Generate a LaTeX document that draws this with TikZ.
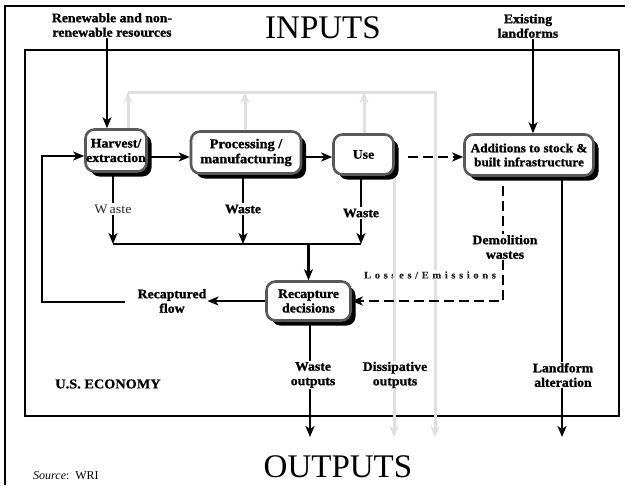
\documentclass[tikz,border=0pt]{standalone}
\usepackage{fontspec}
\setmainfont{Liberation Serif}
\newfontfamily\wide[FakeStretch=1.08]{Liberation Serif}
\newfontfamily\heavy[FakeStretch=1.06,FakeBold=1.2]{Liberation Serif Bold}
\newfontfamily\semi[FakeStretch=1.06,FakeBold=0.6]{Liberation Serif Bold}
\newcommand\lsp[1]{#1\hspace{3.6pt}}
\usetikzlibrary{arrows.meta,shadows,calc}
\begin{document}
\begin{tikzpicture}[x=1pt,y=-1pt,
  box/.style={draw=black!65, line width=2.6pt, rounded corners=9pt, fill=white,
    drop shadow={shadow xshift=5pt, shadow yshift=-5pt, opacity=1, fill=black},
    align=center, inner sep=0pt, font=\heavy\fontsize{13}{14.5}\selectfont},
  lab/.style={align=center, inner sep=1pt, font=\heavy\fontsize{13}{14.5}\selectfont},
  arr/.style={line width=2.6pt, -{Stealth[length=11pt,width=9pt,inset=3pt]}},
  ln/.style={line width=2.6pt},
  dsh/.style={dash pattern=on 10pt off 5pt},
  gln/.style={line width=3pt, draw=black!12},
  garr/.style={gln, -{Stealth[length=11pt,width=9pt,inset=3pt]}},
]
\useasboundingbox (0,0) rectangle (631,485);
% frames
\draw[line width=1.2pt] (625,6) -- (5,6) -- (5,485);
\draw[line width=2pt] (25,50) rectangle (619,416);

% titles
\node[anchor=base, font=\fontsize{33}{36}\selectfont, inner sep=0pt] (inp) at (323,38) {INPUTS};
\node[anchor=base, font=\fontsize{33}{36}\selectfont, inner sep=0pt] (outp) at (338,477) {OUTPUTS};
\node[anchor=base west, font=\fontsize{12}{14}\selectfont, inner sep=0pt] (src) at (33,479) {\textit{Source}:\ \ WRI};
\node[font=\semi\fontsize{13.5}{15}\selectfont, inner sep=0pt] (econ) at (108,384) {U.S. ECONOMY};

% boxes
\node[box, minimum width=61pt, minimum height=42pt] (harv) at (116,150.5) {Harvest/\\extraction};
\node[box, minimum width=110pt, minimum height=42pt, font=\heavy\fontsize{13.5}{15}\selectfont] (proc) at (246,152.5) {Processing /\\manufacturing};
\node[box, minimum width=60pt, minimum height=40pt, font=\semi\fontsize{13}{14}\selectfont] (use) at (363.5,154.5) {Use};
\node[box, minimum width=129pt, minimum height=41pt, font=\heavy\fontsize{12.5}{14}\selectfont] (add) at (529,155) {Additions to stock \&\\built infrastructure};
\node[box, minimum width=84pt, minimum height=39pt] (rec) at (308.5,301) {Recapture\\decisions};

% labels
\node[lab] (res) at (112,25) {Renewable and non-\\renewable resources};
\node[lab] (land) at (528,26) {Existing\\landforms};
\node[lab] (rf) at (172,301) {Recaptured\\flow};
\node[lab, font=\wide\fontsize{13}{14}\selectfont, text=black!85] (w1) at (113,209) {W\hspace{2pt}aste};
\node[lab] (w2) at (243,209) {Waste};
\node[lab] (w3) at (361,213) {Waste};
\node[lab] (dw) at (505,247) {Demolition\\wastes};
\node[lab] (la) at (563,375) {Landform\\alteration};
\node[lab] (wo) at (313,375) {Waste\\outputs};
\node[lab] (dop) at (395,375) {Dissipative\\outputs};
\node[inner sep=1pt, font=\semi\fontsize{10}{11}\selectfont, text=black!85] (le) at (430,275)
  {\lsp L\lsp o\lsp s\lsp s\lsp e\lsp s\lsp /\lsp E\lsp m\lsp i\lsp s\lsp s\lsp i\lsp o\lsp ns};

% coordinates
\coordinate (fy) at (0,157);
\coordinate (hy) at (0,156);
\coordinate (jy) at (0,244);
\coordinate (oy) at (0,437);
\coordinate (gy) at (0,92);
\coordinate (rin) at (107,0);
\coordinate (lin) at (533,0);
\coordinate (lx) at (42,0);
\coordinate (rfl) at (125,302);
\coordinate (dx) at (503,0);
\coordinate (lfx) at (562,0);
\coordinate (wox) at (310,0);
\coordinate (dx2) at (394,0);
\coordinate (g1) at (128,0);
\coordinate (g2) at (245,0);
\coordinate (g3) at (364,0);
\coordinate (gx) at (435,0);

% gray flows
\draw[garr] (g1 |- harv.north) -- (g1 |- gy);
\draw[garr] (g2 |- proc.north) -- (g2 |- gy);
\draw[garr] (g3 |- use.north) -- (g3 |- gy);
\draw[gln] (g1 |- gy) -- (gx |- gy) -- (gx |- le.north);
\draw[garr] (gx |- le.south) -- (gx |- oy);
\draw[gln] ($(dx2 |- use.south)+(0,3)$) -- (dx2 |- dop.north);
\draw[garr] (dx2 |- dop.south) -- (dx2 |- oy);

% inputs
\draw[arr] (rin |- res.south) -- (rin |- harv.north);
\draw[arr] (lin |- land.south) -- (lin |- add.north);

% main flow
\draw[arr] (harv.east |- fy) -- (proc.west |- fy);
\draw[arr] (proc.east |- fy) -- (use.west |- fy);
\draw[arr, dsh] ($(use.east |- fy)+(13,0)$) -- (add.west |- fy);

% wastes
\draw[ln] (w1 |- harv.south) -- (w1.north);
\draw[arr] (w1.south) -- (w1 |- jy);
\draw[ln] (w2 |- proc.south) -- (w2.north);
\draw[arr] (w2.south) -- (w2 |- jy);
\draw[ln] (w3 |- use.south) -- (w3.north);
\draw[arr] (w3.south) -- (w3 |- jy);
\draw[line width=2pt] (w1 |- jy) -- (w3 |- jy);
\draw[arr] (rec.north |- jy) -- (rec.north);

% recapture loop
\draw[arr] (rec.west) -- (rf.east);
\draw[arr] (rfl) -- (rfl -| lx) |- (harv.west |- hy);

% demolition
\draw[ln, dsh] ($(dx |- add.south)+(0,9)$) -- (dx |- dw.north);
\draw[arr, dsh] (dx |- dw.south) |- (rec.east);

% landform
\draw[ln] (lfx |- add.south) -- (lfx |- la.north);
\draw[arr] (lfx |- la.south) -- (lfx |- oy);

% waste outputs
\draw[ln] (wox |- rec.south) -- (wox |- wo.north);
\draw[arr] (wox |- wo.south) -- (wox |- oy);
\end{tikzpicture}
\end{document}
